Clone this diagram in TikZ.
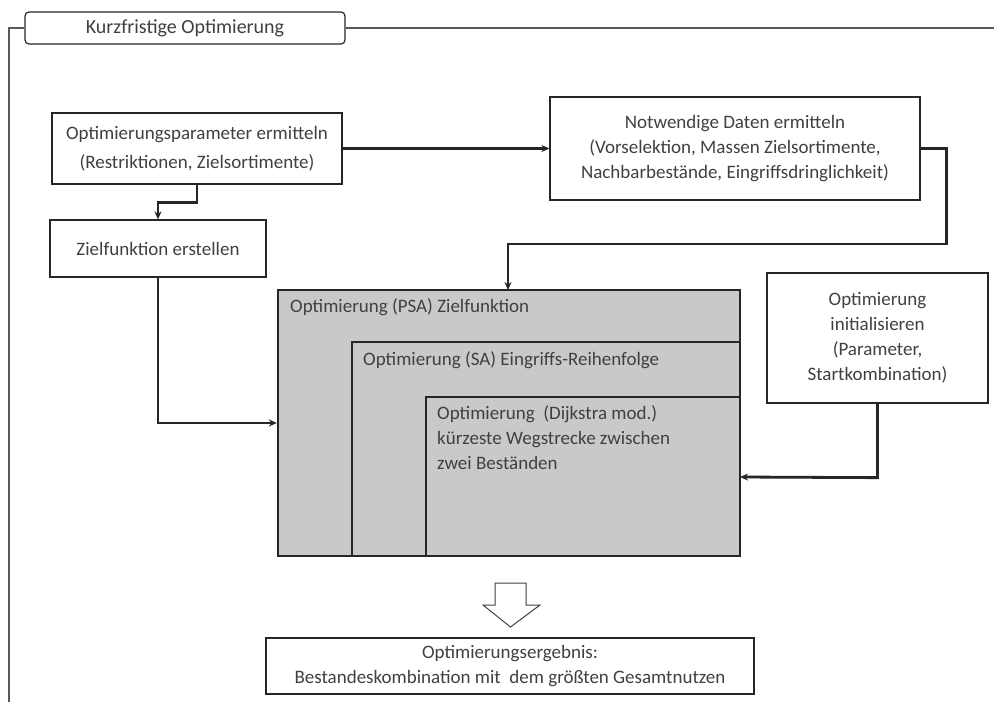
\documentclass[tikz,border=0pt]{standalone}
\usepackage{fontspec}
\setmainfont{Carlito}
\usetikzlibrary{arrows.meta}
\definecolor{txt}{HTML}{404040}
\definecolor{fillg}{HTML}{C8C9CB}
\begin{document}
\begin{tikzpicture}[x=1pt,y=-1pt,
  every node/.style={font=\fontsize{19}{25}\selectfont, text=txt},
  box/.style={draw=black!85, line width=1.3pt, fill=white, inner sep=0pt, align=center},
  nest/.style={draw=black!85, line width=2.4pt, fill=fillg, inner sep=0pt},
  conn/.style={draw=black!85, line width=2.8pt, -{Stealth[length=8pt,width=7pt]}},
  frameline/.style={draw=black!65, line width=1.5pt}]
\useasboundingbox (0,0) rectangle (994,702);
% frame
\node[box, rounded corners=4pt, minimum width=320, minimum height=32, line width=1.2pt, font=\fontsize{20}{25}\selectfont] (title) at (185,28) {Kurzfristige Optimierung};
\coordinate (fl) at (9,28);
\coordinate (fb) at (9,702);
\coordinate (fr) at (994,28);
\draw[frameline] (title.west) -- (fl) -- (fb);
\draw[frameline] (title.east) -- (fr);
% boxes
\node[box, minimum width=290, minimum height=71] (A) at (197,148.5) {Optimierungsparameter ermitteln\\[4pt](Restriktionen, Zielsortimente)};
\node[box, minimum width=370, minimum height=103] (B) at (735,148.5) {Notwendige Daten ermitteln\\(Vorselektion, Massen Zielsortimente,\\Nachbarbestände, Eingriffsdringlichkeit)};
\node[box, minimum width=216, minimum height=57] (C) at (158,248.5) {Zielfunktion erstellen};
\node[box, minimum width=221, minimum height=130] (G) at (877.5,338) {Optimierung\\initialisieren\\(Parameter,\\Startkombination)};
% nested optimisation
\node[nest, minimum width=462, minimum height=266] (D) at (509,423) {};
\node[nest, minimum width=388, minimum height=214] (E) at (546,449) {};
\node[nest, minimum width=314, minimum height=159] (F) at (583,476.5) {};
\node[anchor=north west, inner sep=0pt] (Dt) at (290,298) {Optimierung (PSA) Zielfunktion};
\node[anchor=north west, inner sep=0pt] (Et) at (363,351) {Optimierung (SA) Eingriffs-Reihenfolge};
\node[anchor=north west, inner sep=0pt, align=left] (Ft) at (437,405) {Optimierung\ \ (Dijkstra mod.)\\kürzeste Wegstrecke zwischen\\zwei Beständen};
% result
\node[box, minimum width=488, minimum height=56] (R) at (510,666) {Optimierungsergebnis:\\Bestandeskombination mit\ \ dem größten Gesamtnutzen};
\draw[line width=1pt, draw=black!75, fill=white] (495,583) -- (526,583) -- (526,605) -- (540,605) -- (510.5,627) -- (483,605) -- (495,605) -- cycle;
% connectors
\draw[conn] (A.east) -- (B.west);
\draw[conn] (A.south) -- ++(0,18) -| (C.north);
\draw[conn] (B.east) -- ++(26,0) |- (508,244) -- (508,290);
\draw[conn] (C.south) |- (D.west |- 0,423);
\draw[conn] (G.south) -- ++(0,74) -- (740,477);
\end{tikzpicture}
\end{document}
